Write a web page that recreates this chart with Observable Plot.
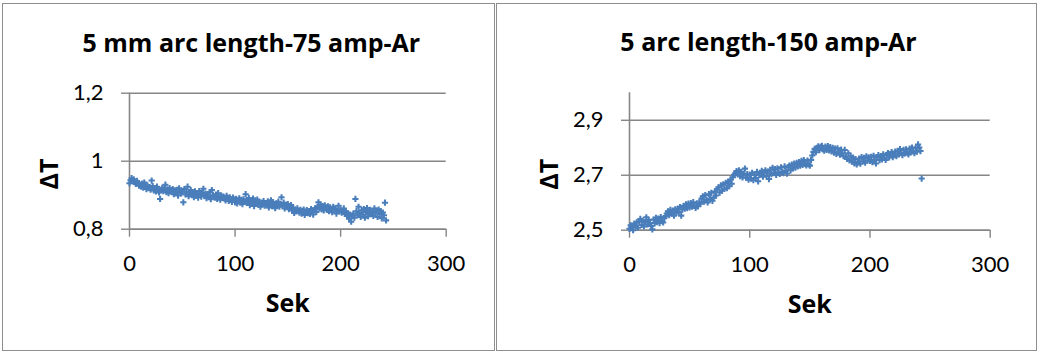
<!DOCTYPE html>
<html>
<head>
<meta charset="utf-8">
<script src="https://cdn.jsdelivr.net/npm/d3@7"></script>
<script src="https://cdn.jsdelivr.net/npm/@observablehq/plot@0.6"></script>
<style>
  html, body { margin: 0; padding: 0; background: #fff; }
  #page { position: relative; width: 1039px; height: 352px; overflow: hidden; background: #fff; }
  .box { position: absolute; top: 3px; height: 346px; border: 1.5px solid #8e8e8e; box-sizing: content-box; }
  .chart { position: absolute; top: 0; }
  .chart svg { overflow: visible; }
</style>
</head>
<body>
<div id="page">
  <div class="box" style="left:2px; width:491px;"></div>
  <div class="box" style="left:496px; width:539px;"></div>
  <div class="chart" id="left" style="left:0px;"></div>
  <div class="chart" id="right" style="left:500px;"></div>
</div>
<script>
// ---------- data ----------
const leftTitle = "5 mm arc length-75 amp-Ar";
const rightTitle = "5 arc length-150 amp-Ar";
const xLabel = "Sek";
const yLabel = "ΔT";
const xTicks = [0, 100, 200, 300];
const leftYTicks = [0.8, 1.0, 1.2];
const rightYTicks = [2.5, 2.7, 2.9];

// ΔT, one reading per second (t = 0 … 243 s)
const leftDT = [
  0.935,0.944,0.950,0.941,0.947,0.938,0.933,0.942,0.936,0.928,
  0.931,0.925,0.934,0.922,0.937,0.926,0.918,0.929,0.921,0.924,
  0.916,0.943,0.927,0.914,0.920,0.911,0.925,0.918,0.908,0.889,
  0.915,0.922,0.912,0.919,0.931,0.909,0.917,0.906,0.921,0.913,
  0.910,0.918,0.903,0.914,0.907,0.916,0.899,0.920,0.911,0.905,
  0.913,0.879,0.918,0.902,0.909,0.925,0.897,0.908,0.915,0.901,
  0.906,0.894,0.911,0.899,0.904,0.893,0.912,0.902,0.896,0.907,
  0.919,0.898,0.905,0.891,0.903,0.895,0.909,0.888,0.915,0.900,
  0.897,0.893,0.902,0.889,0.906,0.894,0.887,0.899,0.892,0.896,
  0.890,0.885,0.898,0.891,0.883,0.894,0.887,0.880,0.893,0.886,
  0.879,0.889,0.876,0.884,0.891,0.878,0.886,0.874,0.888,0.881,
  0.903,0.877,0.885,0.892,0.871,0.883,0.879,0.890,0.868,0.884,
  0.876,0.887,0.872,0.880,0.866,0.878,0.874,0.883,0.869,0.877,
  0.871,0.882,0.864,0.875,0.885,0.868,0.879,0.873,0.862,0.876,
  0.870,0.881,0.866,0.874,0.894,0.869,0.878,0.861,0.872,0.867,
  0.874,0.859,0.866,0.871,0.855,0.863,0.848,0.858,0.852,0.861,
  0.854,0.849,0.857,0.846,0.853,0.858,0.842,0.851,0.856,0.847,
  0.852,0.845,0.859,0.850,0.843,0.856,0.862,0.851,0.866,0.879,
  0.861,0.872,0.858,0.868,0.855,0.870,0.863,0.857,0.867,0.853,
  0.864,0.859,0.850,0.866,0.857,0.861,0.846,0.855,0.869,0.852,
  0.858,0.849,0.854,0.861,0.845,0.852,0.839,0.847,0.831,0.843,
  0.822,0.838,0.846,0.834,0.889,0.853,0.841,0.866,0.848,0.836,
  0.856,0.843,0.859,0.834,0.851,0.862,0.838,0.847,0.857,0.844,
  0.852,0.839,0.861,0.848,0.855,0.836,0.858,0.845,0.853,0.832,
  0.849,0.841,0.878,0.826
];

const rightDT = [
  2.505,2.518,2.511,2.500,2.524,2.515,2.529,2.509,2.532,2.541,
  2.519,2.535,2.514,2.530,2.547,2.521,2.537,2.526,2.515,2.503,
  2.539,2.525,2.545,2.529,2.542,2.526,2.548,2.533,2.528,2.544,
  2.552,2.561,2.569,2.555,2.574,2.560,2.571,2.553,2.576,2.563,
  2.579,2.566,2.584,2.553,2.575,2.589,2.578,2.594,2.580,2.597,
  2.583,2.599,2.586,2.602,2.589,2.581,2.598,2.587,2.601,2.596,
  2.615,2.623,2.604,2.628,2.611,2.601,2.631,2.614,2.636,2.607,
  2.619,2.641,2.626,2.649,2.656,2.637,2.663,2.644,2.667,2.651,
  2.672,2.653,2.676,2.660,2.684,2.669,2.693,2.702,2.707,2.715,
  2.703,2.718,2.697,2.712,2.692,2.706,2.724,2.691,2.704,2.684,
  2.701,2.688,2.709,2.682,2.703,2.690,2.712,2.678,2.700,2.707,
  2.716,2.695,2.710,2.718,2.697,2.713,2.686,2.720,2.704,2.727,
  2.708,2.722,2.701,2.725,2.711,2.705,2.729,2.713,2.708,2.732,
  2.716,2.706,2.730,2.735,2.718,2.739,2.725,2.742,2.728,2.745,
  2.732,2.748,2.735,2.752,2.738,2.755,2.741,2.736,2.753,2.739,
  2.735,2.756,2.772,2.785,2.796,2.784,2.800,2.805,2.791,2.803,
  2.807,2.794,2.789,2.804,2.792,2.806,2.790,2.802,2.787,2.800,
  2.782,2.797,2.778,2.798,2.784,2.775,2.793,2.780,2.769,2.792,
  2.767,2.759,2.780,2.754,2.769,2.749,2.764,2.743,2.759,2.739,
  2.748,2.761,2.742,2.766,2.751,2.763,2.746,2.769,2.754,2.765,
  2.752,2.767,2.748,2.771,2.756,2.743,2.766,2.773,2.755,2.770,
  2.758,2.776,2.763,2.756,2.774,2.781,2.765,2.777,2.784,2.766,
  2.774,2.786,2.769,2.789,2.776,2.795,2.781,2.773,2.792,2.779,
  2.794,2.782,2.776,2.797,2.784,2.801,2.787,2.780,2.799,2.786,
  2.812,2.801,2.788,2.688
];

// ---------- drawing ----------
const GRAY = "#868686";
const BLUE = "#4a7ebb";
const FONT = "Lato, 'Open Sans', sans-serif";
const BOLD_FONT = "'Open Sans', Lato, sans-serif";
const commaFmt = d => String(d).replace(".", ",");

function makeChart({values, yDomain, yTicks, title, width, marginRight, marginTop, marginBottom, titleDx}) {
  const label = {fontFamily: BOLD_FONT, fontWeight: "bold", fontSize: 25, fill: "#000", textAnchor: "middle", lineAnchor: "middle"};
  return Plot.plot({
    width, height: 352,
    marginLeft: 129, marginRight, marginTop, marginBottom,
    style: {fontFamily: FONT, fontSize: "22px", color: "#000", background: "transparent", overflow: "visible"},
    x: {domain: [0, 300]},
    y: {domain: yDomain},
    marks: [
      Plot.ruleY(yTicks, {stroke: GRAY, strokeWidth: 1.4}),
      Plot.axisY({ticks: yTicks, tickFormat: commaFmt, tickSize: 8, tickPadding: 18, stroke: GRAY, strokeWidth: 1.4, fill: "#000", label: null}),
      Plot.axisX({ticks: xTicks, tickFormat: d => String(d), tickSize: 8, tickPadding: 18, stroke: GRAY, strokeWidth: 1.4, fill: "#000", label: null}),
      Plot.ruleX([0], {stroke: GRAY, strokeWidth: 1.6}),
      Plot.ruleY([yDomain[0]], {stroke: GRAY, strokeWidth: 1.6}),
      Plot.dot(values, {x: (d, i) => i, y: d => d, symbol: "cross", r: 2.6, fill: BLUE, stroke: null}),
      Plot.text([title], {...label, frameAnchor: "top", dx: titleDx, dy: -49.5}),
      Plot.text([xLabel], {...label, frameAnchor: "bottom", dy: 74.5}),
      Plot.text([yLabel], {...label, frameAnchor: "left", dx: -80, dy: 12.8, rotate: -90})
    ]
  });
}

document.getElementById("left").append(makeChart({
  values: leftDT, yDomain: [0.8, 1.2], yTicks: leftYTicks, title: leftTitle,
  width: 497, marginRight: 51.3, marginTop: 92.7, marginBottom: 123.3, titleDx: -36.5
}));
document.getElementById("right").append(makeChart({
  values: rightDT, yDomain: [2.5, 3.0], yTicks: rightYTicks, title: rightTitle,
  width: 539, marginRight: 49.3, marginTop: 92.3, marginBottom: 122.3, titleDx: -41.3
}));
</script>
</body>
</html>
